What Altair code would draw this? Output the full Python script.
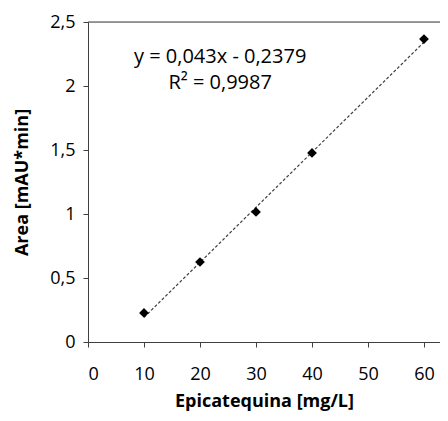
import altair as alt
import pandas as pd

conc = [10, 20, 30, 40, 60]
area = [0.227, 0.625, 1.016, 1.477, 2.367]
slope = 0.043
intercept = -0.2379
eq_lines = ["y = 0,043x - 0,2379", "R² = 0,9987"]
eq_x = [23.6, 23.6]
eq_y = [2.227, 2.023]

pts = pd.DataFrame({"x": conc, "y": area})
trend = pd.DataFrame({"x": [min(conc), max(conc)],
                      "y": [slope * min(conc) + intercept, slope * max(conc) + intercept]})
txt = pd.DataFrame({"x": eq_x, "y": eq_y, "t": eq_lines})

FONT = "Open Sans"
xs = alt.Scale(domain=[0, 62.86], nice=False, zero=True)
ys = alt.Scale(domain=[0, 2.5], nice=False)

xax = alt.Axis(values=[0, 10, 20, 30, 40, 50, 60], title="Epicatequina [mg/L]",
               grid=False, domain=True, domainColor="#404040", tickColor="#404040",
               tickSize=5, labelPadding=18, labelFontSize=18, labelColor="#000",
               labelFont=FONT, titleFont=FONT, titleFontSize=18, titleFontWeight="bold",
               titleColor="#000", titlePadding=9)
yax = alt.Axis(values=[0, 0.5, 1, 1.5, 2, 2.5], title="Area [mAU*min]",
               labelExpr="replace(format(datum.value, ''), '.', ',')",
               grid=False, domain=True, domainColor="#404040", tickColor="#404040",
               tickSize=5, labelPadding=8, labelFontSize=18, labelColor="#000",
               labelFont=FONT, titleFont=FONT, titleFontSize=18, titleFontWeight="bold",
               titleColor="#000", titlePadding=18)

line = alt.Chart(trend).mark_line(color="#404040", strokeWidth=1.2, strokeDash=[3, 2]).encode(
    x=alt.X("x:Q", scale=xs, axis=xax),
    y=alt.Y("y:Q", scale=ys, axis=yax),
)
points = alt.Chart(pts).mark_point(shape="diamond", filled=True, color="#000", size=95, opacity=1).encode(
    x=alt.X("x:Q", scale=xs),
    y=alt.Y("y:Q", scale=ys),
)
text = alt.Chart(txt).mark_text(font=FONT, fontSize=20, color="#000", align="center", baseline="middle").encode(
    x=alt.X("x:Q", scale=xs),
    y=alt.Y("y:Q", scale=ys),
    text="t:N",
)
top = alt.Chart(pd.DataFrame({"y": [2.5]})).mark_rule(color="#404040", strokeWidth=1).encode(
    y=alt.Y("y:Q", scale=ys), x=alt.value(0), x2=alt.value(352)
)

chart = alt.layer(top, line, points, text).properties(
    width=352, height=320,
    autosize=alt.AutoSizeParams(type="none"),
    padding={"left": 80, "top": 14, "right": 0, "bottom": 71},
).configure_view(stroke=None).configure(background="white")

chart.save("out.html", embed_options={"renderer": "svg", "actions": False})
